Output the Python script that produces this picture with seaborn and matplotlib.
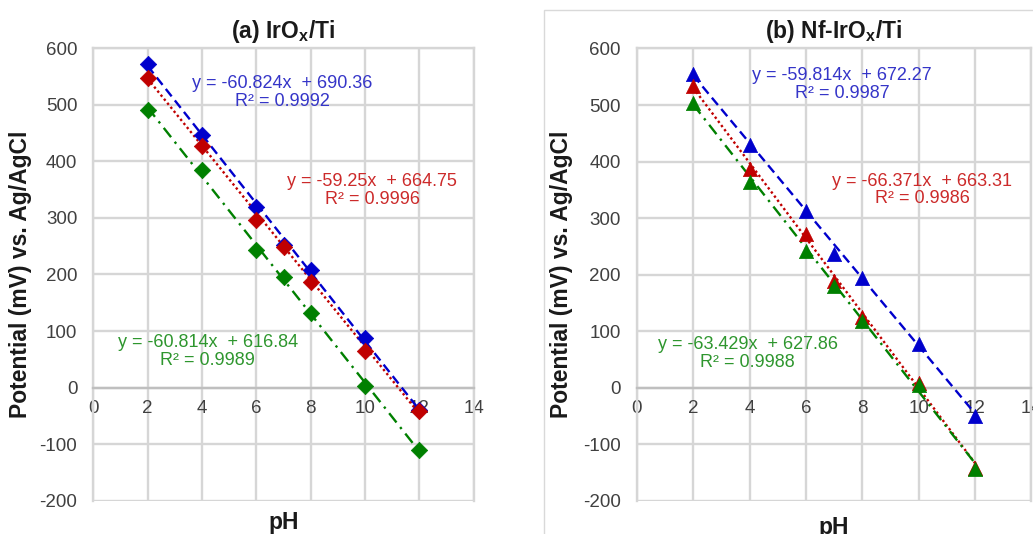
import numpy as np
import pandas as pd
import matplotlib
matplotlib.use("Agg")
import matplotlib.pyplot as plt
from matplotlib.patches import Rectangle
import seaborn as sns

# ---- data ----
ph = [2, 4, 6, 7, 8, 10, 12]
a_blue = [573, 446, 320, 252, 208, 88, -40]
a_red = [548, 428, 297, 249, 187, 65, -41]
a_green = [490, 385, 243, 195, 131, 3, -111]
b_blue = [554, 430, 313, 236, 195, 78, -49]
b_red = [534, 387, 272, 189, 126, 8, -142]
b_green = [504, 364, 242, 180, 118, 5, -143]

a_slopes = [-60.824, -59.25, -60.814]
a_inter = [690.36, 664.75, 616.84]
a_r2 = ["0.9992", "0.9996", "0.9989"]
b_slopes = [-59.814, -66.371, -63.429]
b_inter = [672.27, 663.31, 627.86]
b_r2 = ["0.9987", "0.9986", "0.9988"]

xticks = [0, 2, 4, 6, 8, 10, 12, 14]
yticks = [-200, -100, 0, 100, 200, 300, 400, 500, 600]
titles = [r"(a) IrO$_\mathbf{x}$/Ti", r"(b) Nf-IrO$_\mathbf{x}$/Ti"]

sns.set_theme(style="white")
plt.rcParams["font.family"] = ["Liberation Sans", "DejaVu Sans"]
plt.rcParams["mathtext.fontset"] = "custom"
plt.rcParams["mathtext.rm"] = "Liberation Sans"
plt.rcParams["mathtext.bf"] = "Liberation Sans:bold"
plt.rcParams["axes.unicode_minus"] = False

mark_cols = ["#0000CC", "#C00000", "#008000"]
text_cols = ["#3535C8", "#CC2A2A", "#2E962E"]
styles = [(0, (4, 2.2)), (0, (1, 1.2)), (0, (5, 2.5, 1, 2.5))]
grid_col = "#D6D6D6"

fig = plt.figure(figsize=(10.33, 5.34), dpi=100)
# frame around panel b
fig.patches.append(Rectangle((544 / 1033, -0.2), 0.6, 0.2 + 1 - 10 / 534,
                             transform=fig.transFigure, fill=False,
                             edgecolor="#D9D9D9", linewidth=1.0, zorder=0))

axa = fig.add_axes([0.0903, 0.0624, 0.3683, 0.8472])
axb = fig.add_axes([0.6164, 0.0618, 0.3821, 0.8475])

panels = [
    (axa, [a_blue, a_red, a_green], a_slopes, a_inter, a_r2, "D", 70,
     [(6.96, 522), (10.27, 348), (4.21, 64)], -0.023),
    (axb, [b_blue, b_red, b_green], b_slopes, b_inter, b_r2, "^", 105,
     [(7.28, 536), (10.12, 350), (3.93, 61)], -0.033),
]

for k, (ax, series, slopes, inters, r2s, mk, ms, tpos, xl) in enumerate(panels):
    for i in range(3):
        xs = np.array([ph[0], ph[-1]], dtype=float)
        fit = pd.DataFrame({"x": xs, "y": slopes[i] * xs + inters[i]})
        sns.lineplot(data=fit, x="x", y="y", ax=ax, color=mark_cols[i],
                     linestyle=styles[i], linewidth=1.7, zorder=3)
    for i in range(3):
        df = pd.DataFrame({"x": ph, "y": series[i]})
        sns.scatterplot(data=df, x="x", y="y", ax=ax, marker=mk, s=ms,
                        color=mark_cols[i], edgecolor=mark_cols[i],
                        linewidth=0.5, zorder=4)
    for i in range(3):
        s = slopes[i]
        txt = f"y = {s:g}x  + {inters[i]:g}\nR² = {r2s[i]}"
        ax.text(tpos[i][0], tpos[i][1], txt, color=text_cols[i], fontsize=13,
                ha="center", va="center", multialignment="center",
                linespacing=1.05, zorder=5)
    ax.set_xlim(0, 14)
    ax.set_ylim(-200, 600)
    ax.set_xticks(xticks)
    ax.set_yticks(yticks)
    ax.grid(True, color=grid_col, linewidth=1.7)
    ax.set_axisbelow(True)
    for sp in ["left", "right", "top"]:
        ax.spines[sp].set_color(grid_col)
        ax.spines[sp].set_linewidth(1.7)
    ax.spines["bottom"].set_position(("data", 0))
    ax.spines["bottom"].set_color("#BFBFBF")
    ax.spines["bottom"].set_linewidth(1.7)
    ax.tick_params(axis="both", length=0, labelsize=13.5, colors="#404040")
    ax.tick_params(axis="x", pad=9)
    ax.tick_params(axis="y", pad=11.5)
    ax.set_xlabel("pH", fontsize=16.5, fontweight="bold", color="#1a1a1a")
    ax.xaxis.set_label_coords(0.5, xl)
    ax.set_ylabel("Potential (mV) vs. Ag/AgCl", fontsize=16.5,
                  fontweight="bold", color="#1a1a1a")
    ax.yaxis.set_label_coords(-0.161, 0.5)
    ax.set_title(titles[k], fontsize=16.5, fontweight="bold", pad=7.5,
                 color="#1a1a1a")

fig.savefig("out.png", dpi=100)
